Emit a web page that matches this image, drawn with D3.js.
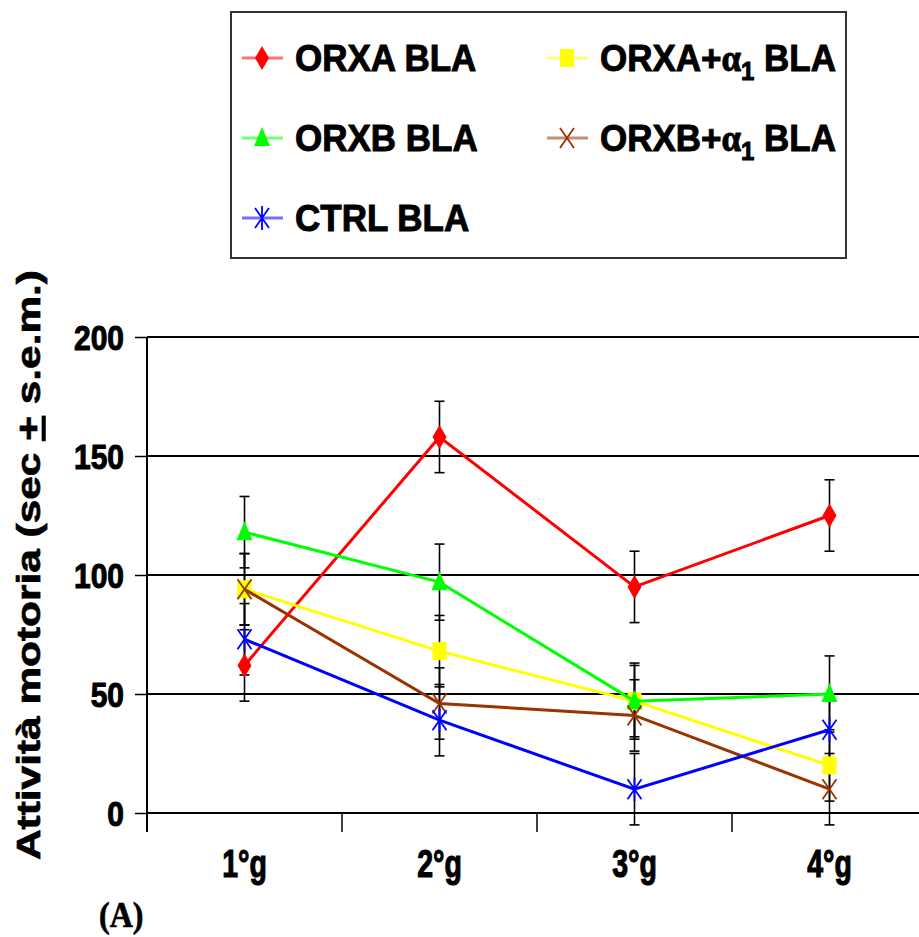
<!DOCTYPE html>
<html>
<head>
<meta charset="utf-8">
<script src="https://cdn.jsdelivr.net/npm/d3@7"></script>
<style>
body { margin: 0; background: #fff; }
svg { display: block; }
text { font-family: "Liberation Sans", Arial, sans-serif; font-weight: bold; fill: #000; }
</style>
</head>
<body>
<div id="chart"></div>
<script>
// data
var days = ["1°g", "2°g", "3°g", "4°g"];
var yTicks = [0, 50, 100, 150, 200];
var seriesNames = ["ORXA BLA", "ORXA+α1 BLA", "ORXB BLA", "ORXB+α1 BLA", "CTRL BLA"];
var orxa = [62, 158, 95, 125];
var orxaErr = [15, 15, 15, 15];
var orxaAlpha = [94, 68, 47, 20];
var orxaAlphaErr = [15, 15, 15, 15];
var orxb = [118, 97, 47, 50];
var orxbErr = [15, 16, 16, 16];
var orxbAlpha = [94, 46, 41, 10];
var orxbAlphaErr = [15, 15, 15, 15];
var ctrl = [73, 39, 10, 35];
var ctrlErr = [15, 15, 15, 15];
var yTitle = "Attività motoria (sec + s.e.m.)";
var panelLabel = "(A)";

var width = 919, height = 937;

var svg = d3.select("#chart").append("svg")
    .attr("width", width)
    .attr("height", height);

var x = d3.scaleBand()
    .domain(days)
    .range([147, 927]);

var y = d3.scaleLinear()
    .domain([0, 200])
    .range([813, 337]);

var series = [
    {name: seriesNames[0], values: orxa, err: orxaErr, color: "#ff0000", sym: "diamond"},
    {name: seriesNames[1], values: orxaAlpha, err: orxaAlphaErr, color: "#ffff00", sym: "square"},
    {name: seriesNames[2], values: orxb, err: orxbErr, color: "#00ff00", sym: "triangle"},
    {name: seriesNames[3], values: orxbAlpha, err: orxbAlphaErr, color: "#993300", sym: "x"},
    {name: seriesNames[4], values: ctrl, err: ctrlErr, color: "#0000ff", sym: "star"}
];

// gridlines
svg.append("g").selectAll("line")
    .data(yTicks.filter(function(d) { return d > 0; }))
    .enter().append("line")
    .attr("x1", 147).attr("x2", width)
    .attr("y1", function(d) { return y(d); })
    .attr("y2", function(d) { return y(d); })
    .attr("stroke", "#000")
    .attr("stroke-width", 2);

// y axis
var yAxis = d3.axisLeft(y).tickValues(yTicks).tickSize(12).tickFormat("");
var gy = svg.append("g").attr("transform", "translate(147,0)").call(yAxis);
gy.select(".domain").attr("d", "M0," + y(200) + "V" + (y(0) + 19)).attr("stroke-width", 2);
gy.selectAll(".tick line").attr("stroke-width", 1.5);

svg.append("g").selectAll("text")
    .data(yTicks)
    .enter().append("text")
    .attr("text-anchor", "end")
    .attr("font-size", 30)
    .attr("stroke", "#000")
    .attr("stroke-width", 0.9)
    .attr("transform", function(d) { return "translate(124," + (y(d) + 12.5) + ") scale(1,1.16)"; })
    .text(function(d) { return d; });

// x axis: band boundaries as ticks
var bounds = days.map(function(d) { return x(d); }).concat([x(days[days.length - 1]) + x.step()]);
svg.append("line")
    .attr("x1", 147).attr("x2", width)
    .attr("y1", y(0)).attr("y2", y(0))
    .attr("stroke", "#000").attr("stroke-width", 2);
svg.append("g").selectAll("line")
    .data(bounds)
    .enter().append("line")
    .attr("x1", function(d) { return d; })
    .attr("x2", function(d) { return d; })
    .attr("y1", y(0)).attr("y2", y(0) + 19)
    .attr("stroke", "#000").attr("stroke-width", 1.5);

svg.append("g").selectAll("text")
    .data(days)
    .enter().append("text")
    .attr("text-anchor", "middle")
    .attr("font-size", 30)
    .attr("stroke", "#000")
    .attr("stroke-width", 0.9)
    .attr("transform", function(d) { return "translate(" + (x(d) + x.bandwidth() / 2) + ",877) scale(0.95,1.3)"; })
    .text(function(d) { return d; });

// y title
var title = svg.append("text")
    .attr("text-anchor", "middle")
    .attr("font-size", 33)
    .attr("stroke", "#000")
    .attr("stroke-width", 0.7)
    .attr("textLength", 590)
    .attr("lengthAdjust", "spacingAndGlyphs")
    .attr("transform", "translate(40,565) rotate(-90)");
var parts = yTitle.split("+");
title.append("tspan").text(parts[0]);
title.append("tspan").attr("text-decoration", "underline").text("+");
title.append("tspan").text(parts[1]);

svg.append("text")
    .style("font-family", "'Liberation Serif', 'Times New Roman', serif")
    .attr("font-size", 32)
    .attr("stroke", "#000")
    .attr("stroke-width", 0.6)
    .attr("transform", "translate(99,927) scale(1,1.15)")
    .text(panelLabel);

function drawSymbol(g, sym, color) {
    if (sym === "diamond") {
        g.append("path").attr("d", "M0,-12L7,0L0,12L-7,0Z").attr("fill", color);
    } else if (sym === "square") {
        g.append("rect").attr("x", -7).attr("y", -9).attr("width", 14).attr("height", 18).attr("fill", color);
    } else if (sym === "triangle") {
        g.append("path").attr("d", "M0,-11L8,8L-8,8Z").attr("fill", color);
    } else if (sym === "x") {
        g.append("path").attr("d", "M-7,-10L7,10M7,-10L-7,10").attr("stroke", color).attr("stroke-width", 1.8).attr("fill", "none");
    } else if (sym === "star") {
        g.append("path").attr("d", "M-7,-10L7,10M7,-10L-7,10M0,-12V12").attr("stroke", color).attr("stroke-width", 1.8).attr("fill", "none");
    }
}

var cx = function(i) { return x(days[i]) + x.bandwidth() / 2; };

var line = d3.line()
    .x(function(d, i) { return cx(i); })
    .y(function(d) { return y(d); });

// error bars first, lines and markers on top
series.forEach(function(s) {
    var eb = svg.append("g").attr("stroke", "#000").attr("stroke-width", 1.6);
    s.values.forEach(function(v, i) {
        var top = y(v + s.err[i]), bot = y(v - s.err[i]);
        eb.append("line").attr("x1", cx(i)).attr("x2", cx(i)).attr("y1", top).attr("y2", bot);
        eb.append("line").attr("x1", cx(i) - 5).attr("x2", cx(i) + 5).attr("y1", top).attr("y2", top);
        eb.append("line").attr("x1", cx(i) - 5).attr("x2", cx(i) + 5).attr("y1", bot).attr("y2", bot);
    });
});

series.forEach(function(s) {
    svg.append("path")
        .datum(s.values)
        .attr("d", line)
        .attr("fill", "none")
        .attr("stroke", s.color)
        .attr("stroke-width", 3);
    s.values.forEach(function(v, i) {
        var g = svg.append("g").attr("transform", "translate(" + cx(i) + "," + y(v) + ")");
        drawSymbol(g, s.sym, s.color);
    });
});

// legend
svg.append("rect")
    .attr("x", 231).attr("y", 12)
    .attr("width", 615).attr("height", 246)
    .attr("fill", "none")
    .attr("stroke", "#333")
    .attr("stroke-width", 2);

var legendPos = [[0, 0], [1, 0], [0, 1], [1, 1], [0, 2]];
series.forEach(function(s, k) {
    var col = legendPos[k][0], row = legendPos[k][1];
    var lx = 242 + col * 305, ly = 58 + row * 80;
    var lg = svg.append("g").attr("transform", "translate(" + lx + "," + ly + ")");
    lg.append("line").attr("x1", 0).attr("x2", 41).attr("y1", 0).attr("y2", 0)
        .attr("stroke", s.color).attr("stroke-width", 3).attr("opacity", 0.55);
    var mg = lg.append("g").attr("transform", "translate(20,0)");
    drawSymbol(mg, s.sym, s.color);
    var t = lg.append("text")
        .attr("font-size", 35)
        .attr("stroke", "#000")
        .attr("stroke-width", 0.9)
        .attr("transform", "translate(53,13) scale(1,1.08)");
    var bits = s.name.split("α1");
    if (bits.length > 1) {
        t.append("tspan").text(bits[0]);
        t.append("tspan").style("font-family", "'Liberation Serif', serif").text("α");
        t.append("tspan").attr("font-size", 24).attr("dy", 8).text("1");
        t.append("tspan").attr("dy", -8).text(bits[1]);
    } else {
        t.text(s.name);
    }
});
</script>
</body>
</html>
